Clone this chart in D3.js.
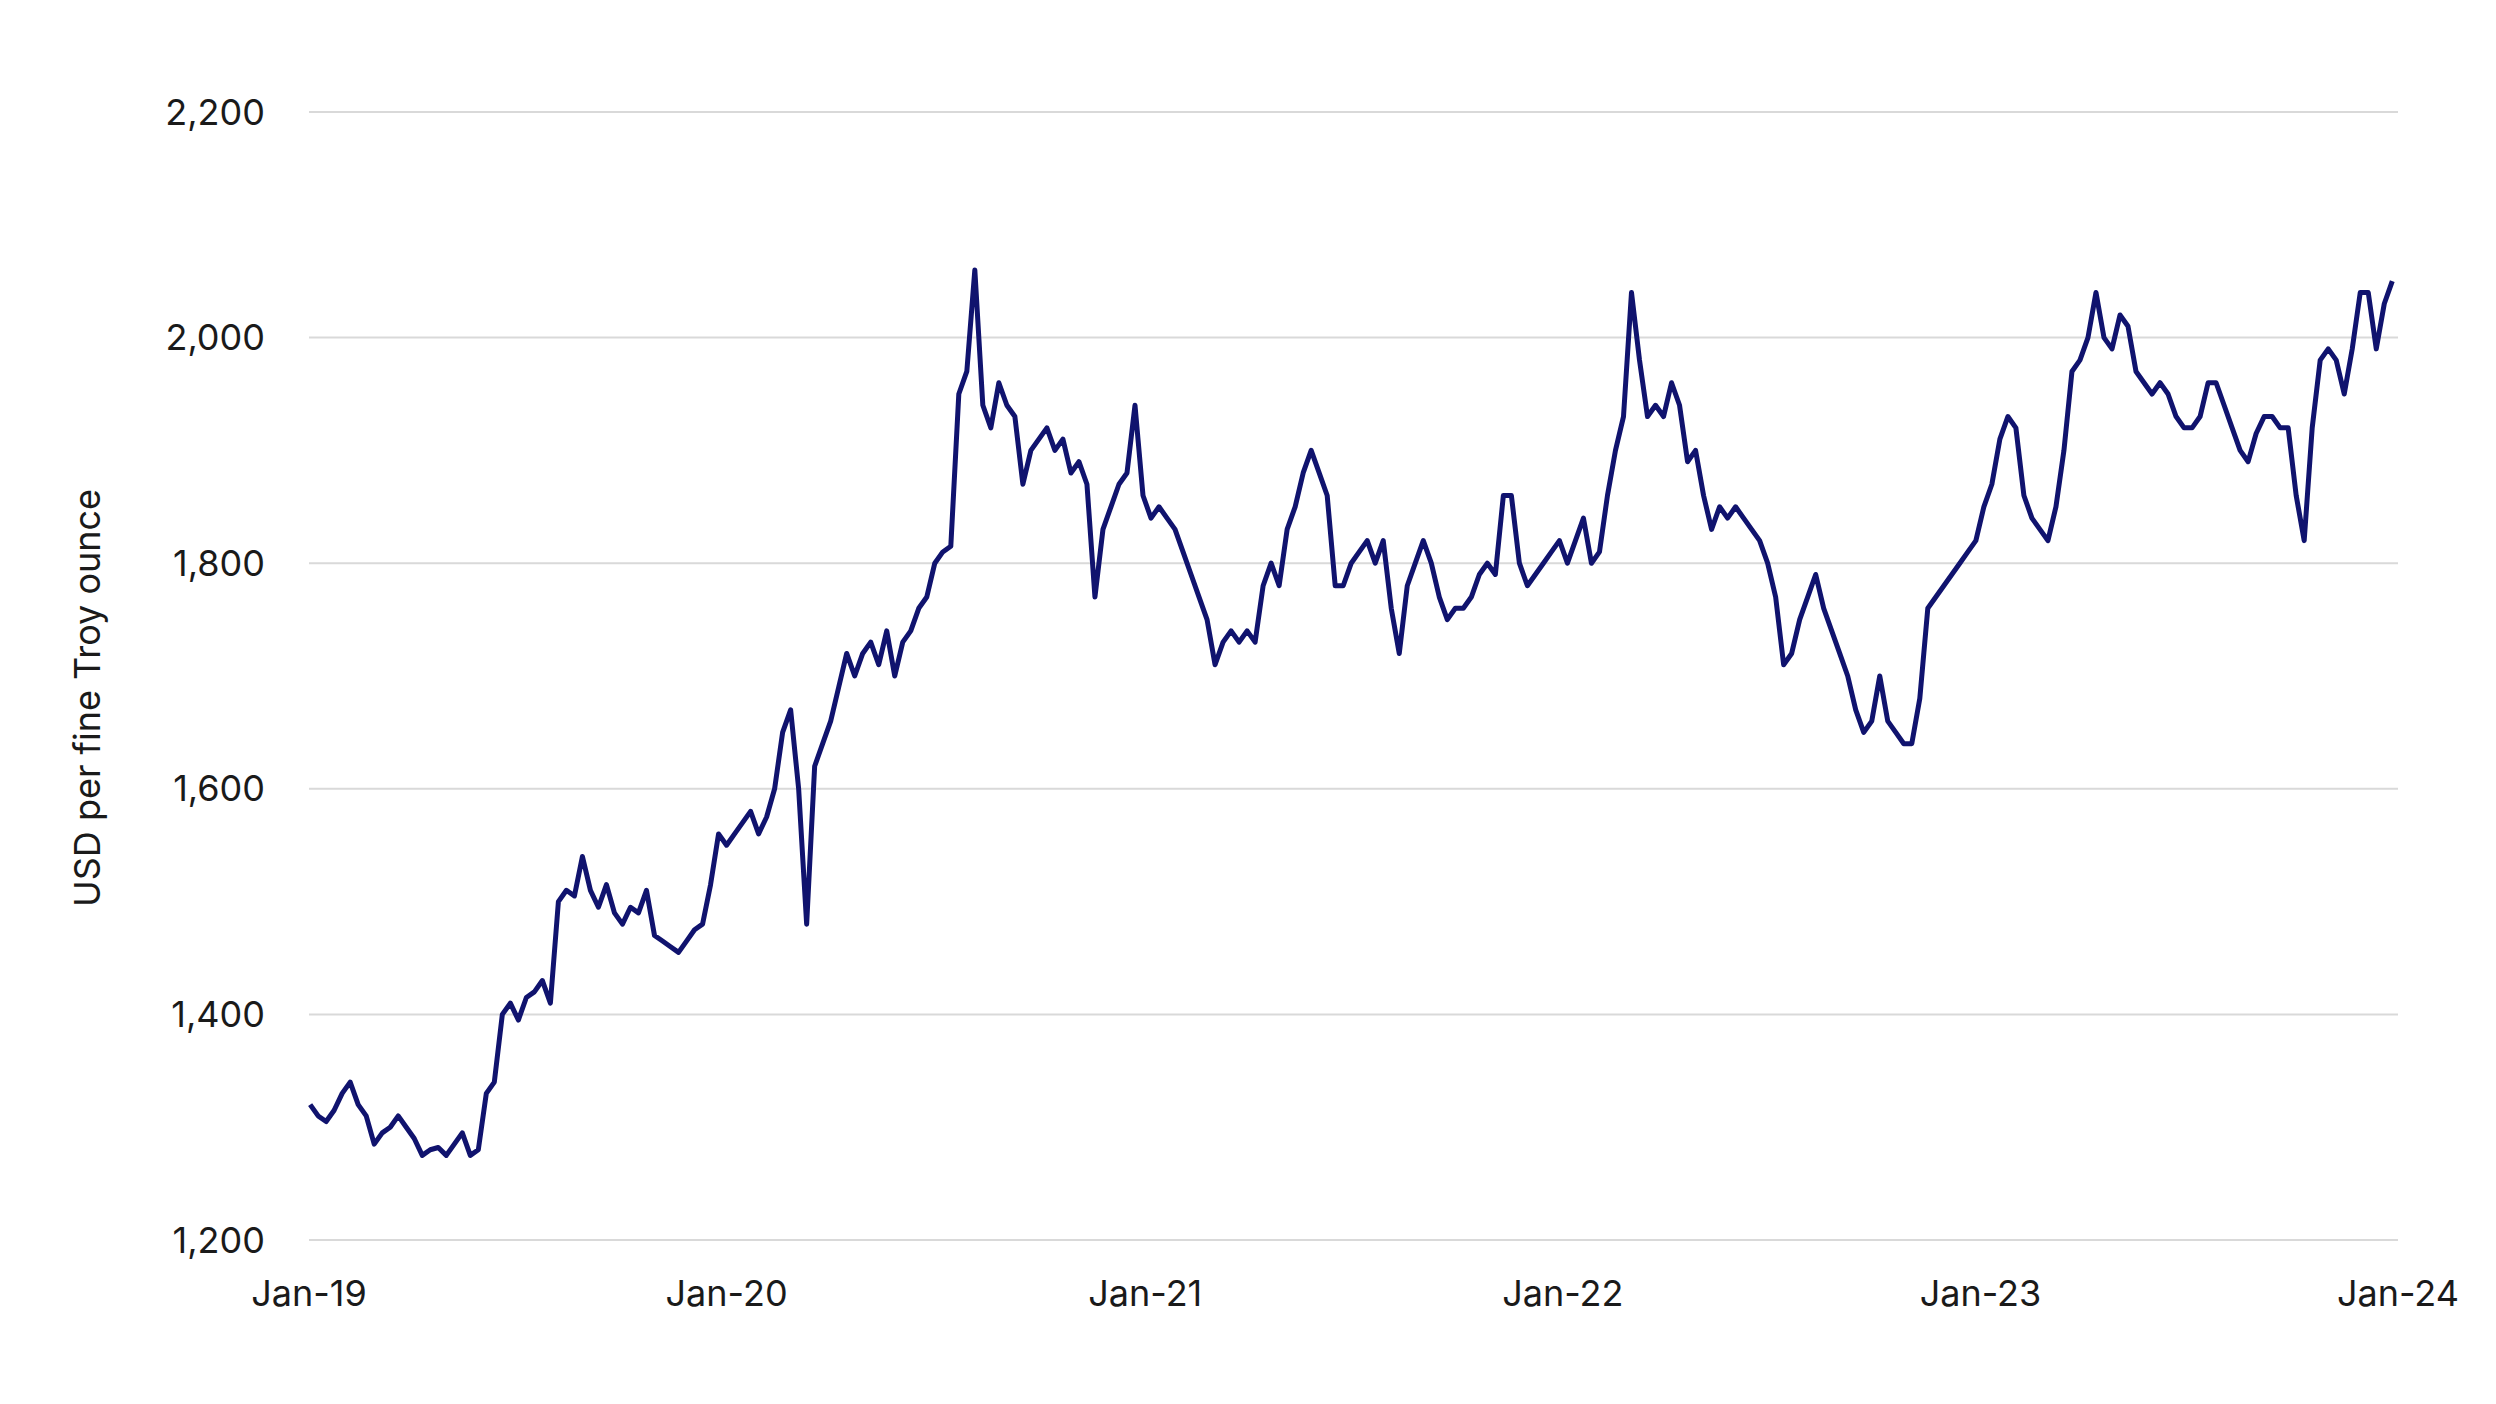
<!DOCTYPE html>
<html>
<head>
<meta charset="utf-8">
<script src="https://cdn.jsdelivr.net/npm/d3@7"></script>
<style>
  body { margin: 0; background: #fff; }
  text { font-family: Inter, "Noto Sans", sans-serif; fill: #1a1a1a; }
</style>
</head>
<body>
<svg id="chart" width="2496" height="1404"></svg>
<script>
// weekly gold price, first week of Jan 2019 onward (USD per fine Troy ounce)
const prices = [
  1320,1310,1305,1315, 1330,1340,1320,1310, 1285,1295,1300,1310, 1300,1290,1275,1280,
  1282,1275,1285,1295, 1275,1280,1330,1340,1400, 1410,1395,1415,1420,1430, 1410,1500,1510,1505,
  1540,1510,1495,1515, 1490,1480,1495,1490,1510, 1470,1465,1460,1455, 1465,1475,1480,1515,
  1560,1550,1560,1570,1580, 1560,1575,1600,1650, 1670,1600,1480,1620,1640, 1660,1690,1720,1700,
  1720,1730,1710,1740, 1700,1730,1740,1760,1770, 1800,1810,1815,1950, 1970,2060,1940,1920,1960,
  1940,1930,1870,1900, 1910,1920,1900,1910,1880, 1890,1870,1770,1830, 1850,1870,1880,1940,
  1860,1840,1850,1840,1830, 1810,1790,1770,1750, 1710,1730,1740,1730, 1740,1730,1780,1800,1780,
  1830,1850,1880,1900, 1880,1860,1780,1780, 1800,1810,1820,1800,1820, 1760,1720,1780,1800,
  1820,1800,1770,1750,1760, 1760,1770,1790,1800, 1790,1860,1860,1800, 1780,1790,1800,1810,1820,
  1800,1820,1840,1800, 1810,1860,1900,1930, 2040,1980,1930,1940, 1930,1960,1940,1890,1900,
  1860,1830,1850,1840, 1850,1840,1830,1820,1800, 1770,1710,1720,1750, 1770,1790,1760,1740,
  1720,1700,1670,1650,1660, 1700,1660,1650,1640, 1640,1680,1760,1770, 1780,1790,1800,1810,1820,
  1850,1870,1910,1930, 1920,1860,1840,1830, 1820,1850,1900,1970,1980, 2000,2040,2000,1990,
  2020,2010,1970,1960, 1950,1960,1950,1930,1920, 1920,1930,1960,1960, 1940,1920,1900,1890,1915,
  1930,1930,1920,1920, 1860,1820,1920,1980,1990, 1980,1950,1990,2040, 2040,1990,2030,2050,2060,2050
];
const startDate = new Date(2019, 0, 2);
const yTicks = [1200, 1400, 1600, 1800, 2000, 2200];
const xTicks = [2019, 2020, 2021, 2022, 2023, 2024].map(y => new Date(y, 0, 1));

const data = prices.map((v, i) => ({ date: d3.timeDay.offset(startDate, i * 7), value: v }))
  .filter(d => d.date <= new Date(2023, 11, 29));

const svg = d3.select('#chart');
const m = { left: 309, right: 2398, top: 112, bottom: 1240 };

const x = d3.scaleTime().domain([xTicks[0], xTicks[xTicks.length - 1]]).range([m.left, m.right]);
const y = d3.scaleLinear().domain([1200, 2200]).range([m.bottom, m.top]);

// gridlines
svg.append('g').selectAll('line').data(yTicks).join('line')
  .attr('x1', m.left).attr('x2', m.right)
  .attr('y1', d => y(d)).attr('y2', d => y(d))
  .attr('stroke', '#d9d9d9').attr('stroke-width', 2);

// y labels
svg.append('g').selectAll('text').data(yTicks).join('text')
  .attr('x', m.left - 44).attr('y', d => y(d)).attr('dy', '0.35em')
  .attr('text-anchor', 'end').style('font-size', '36px')
  .text(d => d3.format(',')(d));

// x labels
const fmt = d3.timeFormat('%b-%y');
svg.append('g').selectAll('text').data(xTicks).join('text')
  .attr('x', d => x(d)).attr('y', m.bottom + 66)
  .attr('text-anchor', 'middle').style('font-size', '36px')
  .text(d => fmt(d));

// axis title
svg.append('text')
  .attr('transform', `translate(100,${(m.top + m.bottom) / 2 + 22}) rotate(-90)`)
  .attr('text-anchor', 'middle').style('font-size', '36px')
  .text('USD per fine Troy ounce');

// price line
svg.append('path').datum(data)
  .attr('fill', 'none').attr('stroke', '#10136e').attr('stroke-width', 5)
  .attr('stroke-linejoin', 'round')
  .attr('d', d3.line().x(d => x(d.date)).y(d => y(d.value)));
</script>
</body>
</html>
